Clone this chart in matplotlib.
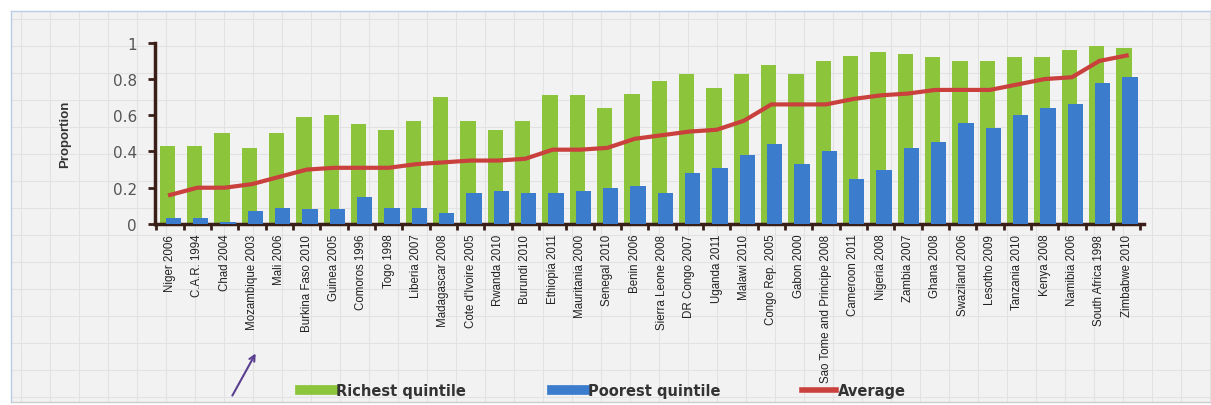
import matplotlib.pyplot as plt
import numpy as np
from matplotlib.lines import Line2D

countries = [
    "Niger 2006", "C.A.R. 1994", "Chad 2004", "Mozambique 2003", "Mali 2006",
    "Burkina Faso 2010", "Guinea 2005", "Comoros 1996", "Togo 1998", "Liberia 2007",
    "Madagascar 2008", "Cote d'Ivoire 2005", "Rwanda 2010", "Burundi 2010",
    "Ethiopia 2011", "Mauritania 2000", "Senegal 2010", "Benin 2006",
    "Sierra Leone 2008", "DR Congo 2007", "Uganda 2011", "Malawi 2010",
    "Congo Rep. 2005", "Gabon 2000", "Sao Tome and Principe 2008", "Cameroon 2011",
    "Nigeria 2008", "Zambia 2007", "Ghana 2008", "Swaziland 2006", "Lesotho 2009",
    "Tanzania 2010", "Kenya 2008", "Namibia 2006", "South Africa 1998", "Zimbabwe 2010",
]
richest = [0.43, 0.43, 0.50, 0.42, 0.50, 0.59, 0.60, 0.55, 0.52, 0.57,
           0.70, 0.57, 0.52, 0.57, 0.71, 0.71, 0.64, 0.72, 0.79, 0.83,
           0.75, 0.83, 0.88, 0.83, 0.90, 0.93, 0.95, 0.94, 0.92, 0.90,
           0.90, 0.92, 0.92, 0.96, 0.98, 0.97]
poorest = [0.03, 0.03, 0.01, 0.07, 0.09, 0.08, 0.08, 0.15, 0.09, 0.09,
           0.06, 0.17, 0.18, 0.17, 0.17, 0.18, 0.20, 0.21, 0.17, 0.28,
           0.31, 0.38, 0.44, 0.33, 0.40, 0.25, 0.30, 0.42, 0.45, 0.56,
           0.53, 0.60, 0.64, 0.66, 0.78, 0.81]
average = [0.16, 0.20, 0.20, 0.22, 0.26, 0.30, 0.31, 0.31, 0.31, 0.33,
           0.34, 0.35, 0.35, 0.36, 0.41, 0.41, 0.42, 0.47, 0.49, 0.51,
           0.52, 0.57, 0.66, 0.66, 0.66, 0.69, 0.71, 0.72, 0.74, 0.74,
           0.74, 0.77, 0.80, 0.81, 0.90, 0.93]
legend_labels = ["Richest quintile", "Poorest quintile", "Average"]

GREEN = "#8cc43c"
BLUE = "#3b7dcc"
RED = "#c9403c"
AXC = "#3a1e18"

fig = plt.figure(figsize=(12.11, 4.06), dpi=100, facecolor="white")

# light panel behind the chart, with a faint grid
bg = fig.add_axes([11 / 1211, 3 / 406, 1 - 11 / 1211, 391 / 406], zorder=-5)
bg.set_facecolor("#f2f2f2")
bg.set_xlim(0, 1200)
bg.set_ylim(0, 391)
bg.set_xticks(np.arange(10, 1200, 29))
bg.set_yticks(np.arange(5, 391, 27))
bg.grid(True, color="#e2e2e2", lw=0.8)
bg.tick_params(length=0, labelbottom=False, labelleft=False)
for s in bg.spines.values():
    s.set_color("#b9cde4")
    s.set_linewidth(1)
bg.spines["right"].set_visible(False)
bg.spines["bottom"].set_color("#cccccc")

ax = fig.add_axes([0.128, 0.446, 0.817, 0.446])
ax.set_facecolor("none")

x = np.arange(len(countries))
ax.bar(x - 0.1, richest, width=0.56, color=GREEN, zorder=2)
ax.bar(x + 0.12, poorest, width=0.56, color=BLUE, zorder=3)
ax.plot(x, average, color=RED, lw=3, zorder=4)

ax.set_xlim(-0.55, len(countries) - 0.35)
ax.set_ylim(0, 1)
ax.set_yticks([0, 0.2, 0.4, 0.6, 0.8, 1])
ax.set_yticklabels(["0", "0.2", "0.4", "0.6", "0.8", "1"])
ax.set_xticks(x)
ax.set_xticklabels(countries, rotation=90, family="Liberation Sans", fontsize=8.3, color="#222222")
ax.set_xticks(np.arange(len(countries) + 1) - 0.5, minor=True)
ax.tick_params(axis="x", which="major", length=0, pad=7)
ax.tick_params(axis="x", which="minor", length=4, width=2, color=AXC)
ax.tick_params(axis="y", length=5, width=2, color=AXC, labelsize=11, labelcolor="#555555", pad=8)

for s in ["top", "right"]:
    ax.spines[s].set_visible(False)
for s in ["left", "bottom"]:
    ax.spines[s].set_color(AXC)
    ax.spines[s].set_linewidth(2.5)

ax.set_ylabel("Proportion", family="Liberation Sans", fontsize=9.5, fontweight="bold",
              color="#333333", labelpad=30)

handles = [
    Line2D([], [], color=GREEN, lw=7),
    Line2D([], [], color=BLUE, lw=7),
    Line2D([], [], color=RED, lw=4),
]
for h, lab, px in zip(handles, legend_labels, [287, 539, 789]):
    leg = fig.legend([h], [lab], loc="center left", bbox_to_anchor=(px / 1211, 0.035),
                     frameon=False, handlelength=2.3, handletextpad=0.15,
                     prop={"weight": "bold", "size": 10.5})
    leg.get_texts()[0].set_color("#333333")

ax.annotate("", xy=(257, 54), xytext=(231, 7), xycoords="figure pixels",
            textcoords="figure pixels",
            arrowprops=dict(arrowstyle="->", color="#5b3f90", lw=1.5))

fig.savefig("out.png", dpi=100, facecolor=fig.get_facecolor())
